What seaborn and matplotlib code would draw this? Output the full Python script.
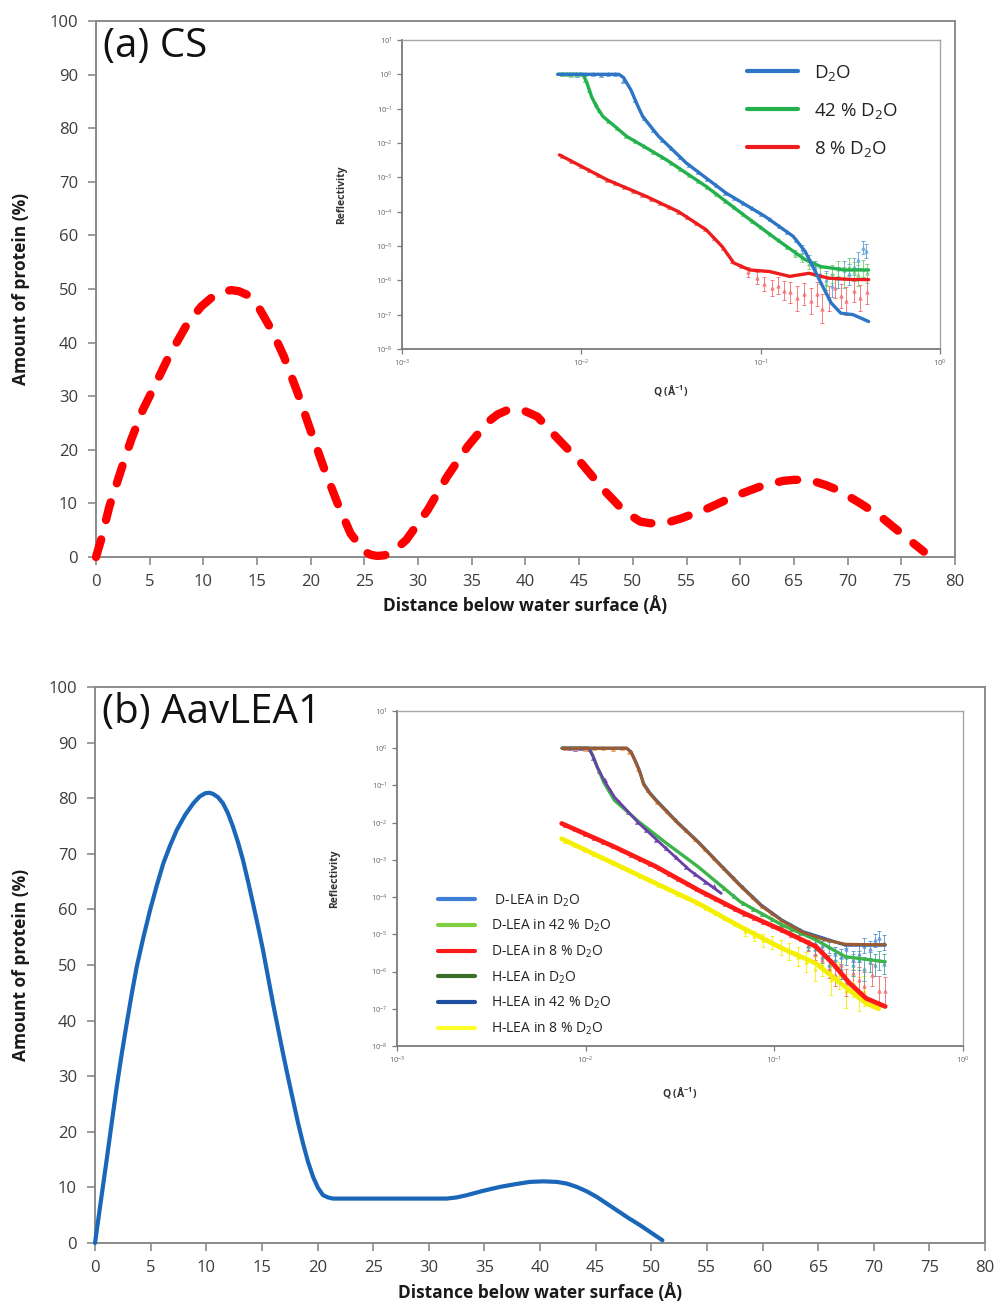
import numpy as np
import matplotlib
matplotlib.use("Agg")
import matplotlib.pyplot as plt
from matplotlib.lines import Line2D
from matplotlib.ticker import MultipleLocator, LogLocator, LogFormatterMathtext, NullLocator
import seaborn as sns

# ---------------- depth profiles (main panels) ----------------
cs_depth = [0, 0.47, 1.24, 2.33, 3.26, 4.35, 5.6, 6.8, 8.5, 9.78, 11.0, 11.8, 12.6, 13.3,
            14.1, 15.2, 16.45, 17.5, 18.8, 20.0, 21.3, 22.5, 23.7, 25.0, 25.6, 26.2, 26.8,
            27.5, 28.9, 30.9, 32.7, 34.6, 36.5, 37.4, 38.3, 39.0, 39.6, 40.2, 41.1, 43.0,
            45.2, 47.3, 49.2, 50.7, 51.6, 52.6, 53.5, 54.5, 57.0, 59.4, 62.2, 64.0, 65.0,
            65.9, 66.9, 68.0, 69.1, 71.2, 73.1, 75.0, 77.1]
cs_protein = [0, 3.2, 9.4, 16.2, 21.8, 27.4, 32.5, 37.5, 43.5, 46.7, 48.8, 49.5, 49.8, 49.6,
              48.9, 46.4, 42.0, 37.4, 30.5, 23.5, 16.2, 10.0, 4.4, 1.0, 0.4, 0.2, 0.3,
              0.7, 3.2, 8.8, 15.0, 20.6, 25.2, 26.6, 27.4, 27.6, 27.5, 27.0, 26.2, 22.1,
              17.5, 12.5, 8.5, 6.6, 6.3, 6.3, 6.6, 7.2, 9.1, 11.3, 13.4, 14.2, 14.4,
              14.4, 14.1, 13.4, 12.5, 10.0, 7.5, 4.4, 1.0]

lea_depth = [0, 0.5, 1.05, 1.5, 1.95, 2.4, 2.85, 3.3, 3.75, 4.35, 4.95, 5.55, 6.14, 6.75,
             7.35, 8.1, 8.84, 9.4, 9.9, 10.25, 10.6, 11.05, 11.5, 11.95, 12.4, 12.85, 13.3,
             13.75, 14.2, 14.65, 15.1, 15.55, 16.0, 16.45, 16.9, 17.35, 17.8, 18.25, 18.7,
             19.15, 19.6, 20.05, 20.5, 20.95, 21.4, 25.0, 31.6, 32.5, 33.4, 34.9, 36.4,
             37.8, 39.1, 40.3, 41.5, 42.4, 43.3, 44.2, 45.1, 46.0, 46.9, 47.95, 49.0,
             50.0, 51.0]
lea_protein = [0, 7.2, 15.0, 21.6, 28.1, 34.0, 39.5, 44.8, 49.7, 55.0, 59.9, 64.3, 68.3, 71.5,
               74.3, 77.0, 79.1, 80.3, 80.9, 81.0, 80.8, 80.2, 79.1, 77.3, 74.9, 72.1, 68.9,
               65.1, 61.1, 57.0, 52.7, 47.9, 43.1, 38.6, 34.1, 29.8, 25.7, 21.6, 17.9,
               14.6, 11.9, 9.9, 8.6, 8.2, 8.0, 8.0, 8.0, 8.2, 8.6, 9.4, 10.1,
               10.6, 11.0, 11.1, 11.0, 10.7, 10.1, 9.3, 8.3, 7.1, 5.9, 4.5, 3.2,
               1.85, 0.5]

# ---------------- reflectivity, CS ----------------
cs_d2o_fit_q = [0.0074, 0.0162, 0.0172, 0.0189, 0.0205, 0.0220, 0.0245, 0.0270, 0.032,
                0.0385, 0.064, 0.106, 0.152, 0.177, 0.191, 0.217, 0.247, 0.280, 0.327, 0.400]
cs_d2o_fit_r = [1.0, 1.0, 0.80, 0.35, 0.13, 0.059, 0.029, 0.0155, 6.6e-3,
                2.6e-3, 3.5e-4, 7.2e-5, 1.9e-5, 6.9e-6, 3.2e-6, 8.3e-7, 2.2e-7, 1.1e-7,
                1.0e-7, 6.3e-8]
cs_d2o_pts_q = [0.0078, 0.0086, 0.0095, 0.0105, 0.0116, 0.0128, 0.0141, 0.0155, 0.0170,
                0.0200, 0.0224, 0.0251, 0.0282, 0.0316, 0.0355, 0.0398, 0.0447, 0.0501,
                0.0562, 0.0631, 0.0708, 0.0794, 0.0891, 0.100, 0.112, 0.126, 0.141, 0.158]
cs_d2o_pts_r = [1.0, 1.03, 0.98, 1.02, 1.0, 0.97, 1.02, 0.99, 0.62, 0.18, 0.052, 0.0245,
                0.0123, 6.9e-3, 3.9e-3, 2.24e-3, 1.41e-3, 9.1e-4, 5.8e-4, 3.6e-4, 2.5e-4,
                1.8e-4, 1.26e-4, 8.7e-5, 5.9e-5, 3.9e-5, 2.5e-5, 1.45e-5]
cs_d2o_tail_q = [0.17, 0.185, 0.20, 0.215, 0.23, 0.25, 0.27, 0.29, 0.31, 0.33, 0.35, 0.37, 0.385]
cs_d2o_tail_r = [8e-6, 4e-6, 2.5e-6, 1.5e-6, 1.0e-6, 7e-7, 1.2e-6, 2.0e-6, 1.5e-6, 2.5e-6,
                 4e-6, 9e-6, 7e-6]
cs_d2o_tail_f = [1.3, 1.4, 1.5, 1.7, 1.9, 2.2, 2.0, 1.8, 2.0, 1.8, 1.7, 1.5, 1.6]

cs_42_fit_q = [0.0074, 0.0102, 0.0107, 0.0114, 0.0122, 0.0132, 0.0150, 0.0179, 0.022, 0.0299,
               0.0497, 0.0826, 0.124, 0.177, 0.217, 0.295, 0.400]
cs_42_fit_r = [1.0, 1.0, 0.6, 0.224, 0.11, 0.059, 0.034, 0.0155, 8.3e-3, 3.2e-3,
               5.4e-4, 7.2e-5, 1.5e-5, 4.0e-6, 2.5e-6, 2.0e-6, 2.0e-6]
cs_42_pts_q = [0.0078, 0.0083, 0.0088, 0.0093, 0.0098, 0.0105, 0.0110, 0.0120, 0.0126, 0.0141,
               0.0158, 0.0178, 0.0200, 0.0224, 0.0251, 0.0282, 0.0316, 0.0355, 0.0398,
               0.0447, 0.0501, 0.0562, 0.0631, 0.0708, 0.0794, 0.0891, 0.100, 0.112, 0.126,
               0.141]
cs_42_pts_r = [1.0, 1.02, 0.98, 1.01, 0.99, 0.69, 0.36, 0.138, 0.091, 0.044, 0.027, 0.016,
               0.0112, 7.9e-3, 5.5e-3, 3.9e-3, 2.6e-3, 1.78e-3, 1.17e-3, 7.8e-4, 5.1e-4,
               3.3e-4, 2.1e-4, 1.32e-4, 8.5e-5, 5.4e-5, 3.5e-5, 2.2e-5, 1.45e-5, 9.3e-6]
cs_42_tail_q = [0.155, 0.17, 0.185, 0.20, 0.215, 0.23, 0.25, 0.27, 0.29, 0.31, 0.33, 0.35,
                0.37, 0.39]
cs_42_tail_r = [6e-6, 4.5e-6, 3e-6, 2e-6, 1.3e-6, 8e-7, 1.5e-6, 2.2e-6, 1.2e-6, 2.5e-6,
                1.8e-6, 1.4e-6, 2.2e-6, 1.6e-6]
cs_42_tail_f = [1.3, 1.3, 1.4, 1.5, 1.7, 2.0, 1.8, 1.7, 2.0, 1.8, 1.9, 2.0, 1.8, 1.9]

cs_8_fit_q = [0.00755, 0.0139, 0.0231, 0.0348, 0.0497, 0.0608, 0.0708, 0.0869, 0.112, 0.145,
              0.186, 0.240, 0.327, 0.400]
cs_8_fit_r = [4.5e-3, 8.5e-4, 2.75e-4, 1.0e-4, 2.95e-5, 9.8e-6, 3.2e-6, 2.0e-6, 1.8e-6,
              1.3e-6, 1.6e-6, 1.15e-6, 1.05e-6, 1.05e-6]
cs_8_pts_q = [0.0078, 0.0088, 0.0099, 0.0111, 0.0124, 0.0139, 0.0155, 0.0174, 0.0195, 0.0219,
              0.0245, 0.0275, 0.0309, 0.0347, 0.0389, 0.0437, 0.049, 0.055, 0.0617, 0.0692,
              0.0776]
cs_8_pts_r = [4.1e-3, 2.95e-3, 2.1e-3, 1.58e-3, 1.17e-3, 8.5e-4, 6.7e-4, 5.2e-4, 4.0e-4,
              3.1e-4, 2.4e-4, 1.8e-4, 1.35e-4, 1.0e-4, 6.8e-5, 4.6e-5, 3.1e-5, 1.7e-5,
              8.9e-6, 3.7e-6, 2.6e-6]
cs_8_tail_q = [0.085, 0.095, 0.105, 0.115, 0.125, 0.135, 0.145, 0.16, 0.175, 0.19, 0.205,
               0.22, 0.24, 0.26, 0.28, 0.30, 0.33, 0.36, 0.39]
cs_8_tail_r = [1.8e-6, 1.2e-6, 8e-7, 6e-7, 7e-7, 5e-7, 4.5e-7, 3e-7, 4e-7, 2.5e-7, 4e-7,
               1.5e-7, 3e-7, 6e-7, 3.5e-7, 2.5e-7, 5e-7, 3e-7, 4.5e-7]
cs_8_tail_f = [1.4, 1.5, 1.6, 1.7, 1.8, 1.9, 2.0, 2.3, 2.1, 2.4, 2.2, 2.6, 2.3, 2.0, 2.3,
               2.5, 2.1, 2.4, 2.2]

# ---------------- reflectivity, AavLEA1 ----------------
lea_d2o_fit_q = [0.0075, 0.0165, 0.0174, 0.0183, 0.0193, 0.0203, 0.0218, 0.0237, 0.0306,
                 0.0395, 0.051, 0.066, 0.0853, 0.110, 0.1425, 0.184, 0.238, 0.30, 0.387]
lea_d2o_fit_r = [1.0, 1.0, 0.80, 0.47, 0.25, 0.112, 0.065, 0.040, 0.0104, 3.05e-3, 8.0e-4,
                 2.1e-4, 6.1e-5, 2.4e-5, 1.17e-5, 7.8e-6, 5.1e-6, 5.1e-6, 5.1e-6]
lea_hd2o_fit_r = [1.0, 1.0, 0.78, 0.45, 0.24, 0.105, 0.062, 0.038, 0.0100, 2.95e-3, 7.7e-4,
                  2.0e-4, 5.8e-5, 2.3e-5, 1.12e-5, 7.2e-6, 5.4e-6, 5.3e-6, 5.3e-6]
lea_d2o_pts_q = [0.0078, 0.0088, 0.0099, 0.0111, 0.0124, 0.0139, 0.0155, 0.0170, 0.0190,
                 0.0215, 0.024, 0.027, 0.030, 0.034, 0.038, 0.043, 0.048, 0.054, 0.061,
                 0.068, 0.077, 0.086, 0.097, 0.109, 0.122, 0.137, 0.154]
lea_d2o_pts_r = [1.0, 1.02, 0.98, 1.01, 1.0, 0.98, 1.01, 0.81, 0.28, 0.076, 0.037, 0.020,
                 0.0117, 6.3e-3, 3.7e-3, 2.0e-3, 1.1e-3, 6.0e-4, 3.2e-4, 1.82e-4, 1.02e-4,
                 5.9e-5, 3.8e-5, 2.5e-5, 1.8e-5, 1.3e-5, 1.0e-5]
lea_d2o_tail_q = [0.165, 0.18, 0.195, 0.21, 0.225, 0.24, 0.26, 0.28, 0.30, 0.32, 0.34, 0.36, 0.38]
lea_d2o_tail_r = [6e-6, 5e-6, 4.5e-6, 3e-6, 2.5e-6, 4e-6, 2e-6, 3e-6, 5e-6, 4e-6, 7e-6, 8e-6, 6e-6]
lea_d2o_tail_f = [1.3, 1.3, 1.4, 1.5, 1.6, 1.5, 1.8, 1.7, 1.6, 1.7, 1.5, 1.5, 1.6]

lea_42_fit_q = [0.0075, 0.0104, 0.0109, 0.0115, 0.0125, 0.0142, 0.0192, 0.0262, 0.0395, 0.066,
                0.110, 0.166, 0.238, 0.387]
lea_42_fit_r = [1.0, 1.0, 0.65, 0.32, 0.12, 0.040, 0.0104, 3.05e-3, 6.5e-4, 7.5e-5, 1.78e-5,
                7.1e-6, 2.5e-6, 1.83e-6]
lea_h42_fit_q = [0.0075, 0.0104, 0.0109, 0.0115, 0.0126, 0.0142, 0.0192, 0.0262, 0.0357, 0.0523]
lea_h42_fit_r = [1.0, 1.0, 0.62, 0.316, 0.13, 0.049, 9.5e-3, 2.2e-3, 5.2e-4, 1.26e-4]
lea_42_pts_q = [0.0078, 0.0083, 0.0088, 0.0093, 0.0098, 0.0104, 0.0110, 0.0118, 0.0126,
                0.0135, 0.0150, 0.0168, 0.0188, 0.021, 0.0236, 0.0265, 0.030, 0.034, 0.038,
                0.043, 0.048]
lea_42_pts_r = [1.0, 1.02, 0.98, 1.01, 0.99, 0.97, 0.53, 0.25, 0.14, 0.076, 0.036, 0.0195,
                0.0107, 6.2e-3, 3.5e-3, 2.1e-3, 1.17e-3, 6.6e-4, 4.2e-4, 2.6e-4, 2.0e-4]
lea_42b_pts_q = [0.054, 0.061, 0.068, 0.077, 0.086, 0.097, 0.109, 0.122, 0.137]
lea_42b_pts_r = [1.8e-4, 1.07e-4, 6.9e-5, 4.9e-5, 3.6e-5, 2.6e-5, 1.8e-5, 1.4e-5, 1.1e-5]
lea_42_tail_q = [0.15, 0.165, 0.18, 0.195, 0.21, 0.225, 0.24, 0.26, 0.28, 0.30, 0.32, 0.34,
                 0.36, 0.38]
lea_42_tail_r = [5e-6, 4e-6, 2.5e-6, 1.5e-6, 2e-6, 1.2e-6, 2.5e-6, 1.5e-6, 2.0e-6, 1.2e-6,
                 1.8e-6, 1.5e-6, 2e-6, 1.6e-6]
lea_42_tail_f = [1.3, 1.4, 1.5, 1.8, 1.6, 1.9, 1.7, 2.0, 1.8, 2.1, 1.9, 2.0, 1.8, 1.9]

lea_8_fit_q = [0.00746, 0.0142, 0.0237, 0.0395, 0.066, 0.110, 0.166, 0.204, 0.251, 0.307, 0.387]
lea_8_fit_r = [9.5e-3, 2.24e-3, 6.5e-4, 1.55e-4, 4.1e-5, 1.29e-5, 4.7e-6, 1.66e-6, 4.8e-7,
               1.9e-7, 1.15e-7]
lea_8_pts_q = [0.0078, 0.0088, 0.0099, 0.0111, 0.0124, 0.0139, 0.0155, 0.0174, 0.0195, 0.0219,
               0.0245, 0.0275, 0.0309, 0.0347, 0.0389, 0.0437, 0.049, 0.055, 0.0617, 0.0692,
               0.0776, 0.087, 0.098, 0.11, 0.123, 0.138]
lea_8_pts_r = [8.7e-3, 6.6e-3, 5.0e-3, 3.9e-3, 3.0e-3, 2.3e-3, 1.8e-3, 1.38e-3, 1.05e-3,
               7.8e-4, 5.9e-4, 4.3e-4, 3.1e-4, 2.2e-4, 1.6e-4, 1.2e-4, 8.9e-5, 6.6e-5,
               4.9e-5, 3.6e-5, 2.8e-5, 2.2e-5, 1.66e-5, 1.29e-5, 9.8e-6, 7.4e-6]
lea_8_tail_q = [0.15, 0.165, 0.18, 0.195, 0.21, 0.225, 0.24, 0.26, 0.28, 0.30, 0.33, 0.36, 0.385]
lea_8_tail_r = [5e-6, 3e-6, 2e-6, 1.2e-6, 8e-7, 1.5e-6, 5e-7, 9e-7, 6e-7, 4e-7, 8e-7, 3e-7, 3e-7]
lea_8_tail_f = [1.4, 1.5, 1.6, 1.8, 2.0, 1.8, 2.3, 2.0, 2.2, 2.4, 2.0, 2.5, 2.4]

lea_h8_fit_q = [0.00746, 0.0142, 0.0237, 0.0395, 0.066, 0.110, 0.166, 0.225, 0.307, 0.358]
lea_h8_fit_r = [3.7e-3, 7.9e-4, 2.3e-4, 6.8e-5, 1.6e-5, 4.2e-6, 1.66e-6, 4.8e-7, 1.4e-7, 1.0e-7]
lea_h8_pts_q = [0.0078, 0.0088, 0.0099, 0.0111, 0.0124, 0.0139, 0.0155, 0.0174, 0.0195,
                0.0219, 0.0245, 0.0275, 0.0309, 0.0347, 0.0389, 0.0437, 0.049, 0.055, 0.0617]
lea_h8_pts_r = [3.3e-3, 2.5e-3, 1.87e-3, 1.44e-3, 1.1e-3, 8.3e-4, 6.4e-4, 4.9e-4, 3.7e-4,
                2.8e-4, 2.15e-4, 1.63e-4, 1.23e-4, 9.3e-5, 7.1e-5, 5.1e-5, 3.7e-5, 2.7e-5,
                1.9e-5]
lea_h8_tail_q = [0.07, 0.078, 0.087, 0.097, 0.108, 0.12, 0.133, 0.148, 0.165, 0.18, 0.20,
                 0.22, 0.24, 0.26, 0.28, 0.30]
lea_h8_tail_r = [1.2e-5, 9e-6, 7e-6, 6e-6, 4.5e-6, 3.5e-6, 2.5e-6, 1.8e-6, 1.2e-6, 1.5e-6,
                 6e-7, 8e-7, 3e-7, 5e-7, 2.5e-7, 3e-7]
lea_h8_tail_f = [1.3, 1.4, 1.5, 1.5, 1.6, 1.7, 1.8, 1.9, 2.1, 2.0, 2.5, 2.3, 2.8, 2.4, 2.8, 2.6]

cs_legend = ["D$_2$O", "42 % D$_2$O", "8 % D$_2$O"]
lea_legend = [" D-LEA in D$_2$O", "D-LEA in 42 % D$_2$O", "D-LEA in 8 % D$_2$O",
              "H-LEA in D$_2$O", "H-LEA in 42 % D$_2$O", "H-LEA in 8 % D$_2$O"]

# ---------------- style ----------------
sns.set_theme(style="white")
plt.rcParams["font.family"] = ["Open Sans", "DejaVu Sans"]
plt.rcParams["mathtext.fontset"] = "custom"
plt.rcParams["mathtext.rm"] = "Open Sans"
plt.rcParams["mathtext.it"] = "Open Sans:italic"
plt.rcParams["mathtext.bf"] = "Open Sans:bold"
plt.rcParams["mathtext.default"] = "regular"

FRAME = "#8a8a8a"
TICKTXT = "#3c3c3c"
LABEL = "#1a1a1a"

fig = plt.figure(figsize=(9.98, 13.06), dpi=100)


def style_main(ax, title, ylab_x, xlab_y):
    ax.set_xlim(0, 80)
    ax.set_ylim(0, 100)
    ax.xaxis.set_major_locator(MultipleLocator(5))
    ax.yaxis.set_major_locator(MultipleLocator(10))
    for s in ax.spines.values():
        s.set_visible(True)
        s.set_color(FRAME)
        s.set_linewidth(1.4)
    ax.tick_params(axis="both", which="major", direction="out", length=6, width=1.2,
                   color=FRAME, labelsize=12, labelcolor=TICKTXT, bottom=True, left=True)
    ax.tick_params(axis="x", pad=6)
    ax.tick_params(axis="y", pad=7)
    ax.set_xlabel("Distance below water surface (Å)", fontsize=12.5, fontweight="bold", color=LABEL)
    ax.set_ylabel("Amount of protein (%)", fontsize=12.5, fontweight="bold", color=LABEL)
    ax.yaxis.set_label_coords(ylab_x, 0.5)
    ax.xaxis.set_label_coords(0.5, xlab_y)
    ax.grid(False)
    ax.text(0.008, 0.99, title, transform=ax.transAxes, ha="left", va="top",
            fontsize=29, color="#111111")


def style_inset(ax, ylab_x, xlab_y):
    ax.set_xscale("log")
    ax.set_yscale("log")
    ax.set_xlim(1e-3, 1)
    ax.set_ylim(1e-8, 10)
    ax.xaxis.set_major_locator(LogLocator(base=10, numticks=15))
    ax.yaxis.set_major_locator(LogLocator(base=10, numticks=15))
    ax.xaxis.set_minor_locator(NullLocator())
    ax.yaxis.set_minor_locator(NullLocator())
    ax.xaxis.set_major_formatter(LogFormatterMathtext())
    ax.yaxis.set_major_formatter(LogFormatterMathtext())
    for name, s in ax.spines.items():
        s.set_visible(True)
        if name in ("left", "bottom"):
            s.set_color("#7a7a7a")
            s.set_linewidth(1.3)
        else:
            s.set_color("#a6a6a6")
            s.set_linewidth(1.0)
    ax.tick_params(axis="both", which="major", direction="out", length=3.5, width=0.9,
                   color="#7a7a7a", labelsize=5.5, labelcolor="#666666", pad=3,
                   bottom=True, left=True)
    ax.set_xlabel("Q (Å$^{-1}$)", fontsize=7.5, fontweight="bold", color="#333333")
    ax.set_ylabel("Reflectivity", fontsize=7.5, fontweight="bold", color="#333333")
    ax.yaxis.set_label_coords(ylab_x, 0.5)
    ax.xaxis.set_label_coords(0.5, xlab_y)
    ax.grid(False)
    ax.set_facecolor("white")


def fit_line(ax, q, r, color, lw, z=3):
    sns.lineplot(x=q, y=r, ax=ax, color=color, linewidth=lw, errorbar=None,
                 sort=False, legend=False, zorder=z)


def points(ax, q, r, color, z=2):
    sns.scatterplot(x=q, y=r, ax=ax, marker="^", s=9, color=color, edgecolor=color,
                    linewidth=0.4, legend=False, zorder=z)


def tail(ax, q, r, f, color, z=2):
    r = np.asarray(r)
    f = np.asarray(f)
    lo = r - r / f
    hi = r * f - r
    ax.errorbar(q, r, yerr=[lo, hi], fmt="^", ms=2.4, color=color, mfc="none",
                mew=0.6, elinewidth=0.6, capsize=1.5, capthick=0.6, zorder=z)


# ---------------- panel (a) ----------------
ax_a = fig.add_axes([0.0962, 0.5735, 0.8607, 0.4104])
sns.lineplot(x=cs_depth, y=cs_protein, ax=ax_a, color="#ff0000", linewidth=6,
             linestyle=(0, (2.2, 2.4)), dash_capstyle="round", errorbar=None,
             sort=False, legend=False, clip_on=False, zorder=4)
style_main(ax_a, "(a) CS", -0.077, -0.073)

in_a = fig.add_axes([0.4028, 0.7328, 0.5391, 0.2366])
C_D2O, C_D2O_P = "#2e75c6", "#5aa0dc"
C_42, C_42_P = "#22b14c", "#6fd06f"
C_8, C_8_P = "#ee1c1c", "#f26a6a"
tail(in_a, cs_d2o_tail_q, cs_d2o_tail_r, cs_d2o_tail_f, C_D2O_P)
tail(in_a, cs_42_tail_q, cs_42_tail_r, cs_42_tail_f, C_42_P)
tail(in_a, cs_8_tail_q, cs_8_tail_r, cs_8_tail_f, C_8_P)
points(in_a, cs_d2o_pts_q, cs_d2o_pts_r, C_D2O_P)
points(in_a, cs_42_pts_q, cs_42_pts_r, C_42_P)
points(in_a, cs_8_pts_q, cs_8_pts_r, C_8_P)
fit_line(in_a, cs_8_fit_q, cs_8_fit_r, C_8, 2.4)
fit_line(in_a, cs_42_fit_q, cs_42_fit_r, C_42, 2.4)
fit_line(in_a, cs_d2o_fit_q, cs_d2o_fit_r, C_D2O, 2.4)
style_inset(in_a, -0.102, -0.107)
handles_a = [Line2D([0], [0], color=c, lw=3) for c in (C_D2O, C_42, C_8)]
in_a.legend(handles_a, cs_legend, loc="upper right", bbox_to_anchor=(0.935, 0.95),
            borderaxespad=0, frameon=False, fontsize=13.5, handlelength=2.7,
            handletextpad=0.85, labelspacing=0.95, labelcolor="#222222")

# ---------------- panel (b) ----------------
ax_b = fig.add_axes([0.0952, 0.0482, 0.8918, 0.4257])
sns.lineplot(x=lea_depth, y=lea_protein, ax=ax_b, color="#1a66b8", linewidth=3,
             errorbar=None, sort=False, legend=False, clip_on=False, zorder=4)
style_main(ax_b, "(b) AavLEA1", -0.073, -0.072)

in_b = fig.add_axes([0.3978, 0.1991, 0.5671, 0.2565])
L_BLUE, L_ORANGE = "#4f8fd8", "#f0a050"
L_GREEN, L_PURPLE = "#3cb44b", "#7d5bc0"
L_RED, L_YELLOW = "#ff1a1a", "#f5f000"
tail(in_b, lea_h8_tail_q, lea_h8_tail_r, lea_h8_tail_f, L_YELLOW)
tail(in_b, lea_8_tail_q, lea_8_tail_r, lea_8_tail_f, "#f06a6a")
tail(in_b, lea_42_tail_q, lea_42_tail_r, lea_42_tail_f, "#4aa0a0")
tail(in_b, lea_d2o_tail_q, lea_d2o_tail_r, lea_d2o_tail_f, L_BLUE)
points(in_b, lea_h8_pts_q, lea_h8_pts_r, L_YELLOW)
points(in_b, lea_8_pts_q, lea_8_pts_r, "#f04848")
points(in_b, lea_42_pts_q, lea_42_pts_r, L_PURPLE)
points(in_b, lea_42b_pts_q, lea_42b_pts_r, L_GREEN)
points(in_b, lea_d2o_pts_q, lea_d2o_pts_r, L_ORANGE)
fit_line(in_b, lea_h8_fit_q, lea_h8_fit_r, L_YELLOW, 3.4)
fit_line(in_b, lea_8_fit_q, lea_8_fit_r, L_RED, 3.4)
fit_line(in_b, lea_42_fit_q, lea_42_fit_r, L_GREEN, 2.4)
fit_line(in_b, lea_h42_fit_q, lea_h42_fit_r, "#6a3fa8", 2.0)
fit_line(in_b, lea_d2o_fit_q, lea_d2o_fit_r, "#2f62b0", 2.2)
fit_line(in_b, lea_d2o_fit_q, lea_hd2o_fit_r, "#9a5a32", 2.2)
style_inset(in_b, -0.101, -0.113)
lea_colors = ["#3f7fd6", "#7fcf40", "#ff1a1a", "#3b6e2a", "#1f4fa0", "#ffff2a"]
handles_b = [Line2D([0], [0], color=c, lw=3) for c in lea_colors]
in_b.legend(handles_b, lea_legend, loc="lower left", bbox_to_anchor=(0.062, 0.01),
            borderaxespad=0, frameon=False, fontsize=10, handlelength=2.66,
            handletextpad=1.2, labelspacing=0.67, labelcolor="#222222")

fig.savefig("out.png", dpi=100, facecolor="white")
